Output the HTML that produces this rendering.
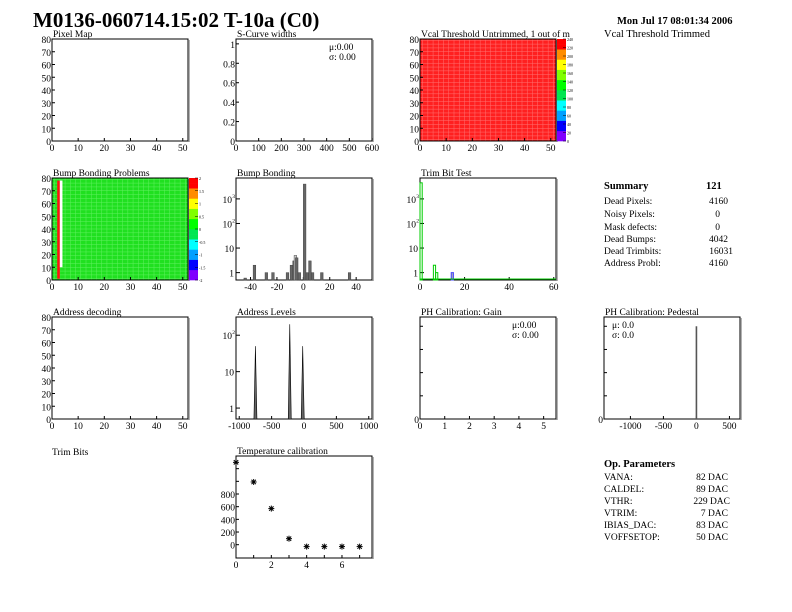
<!DOCTYPE html>
<html><head><meta charset="utf-8"><style>
body{margin:0;background:#fff}
svg{display:block;font-family:"Liberation Serif",serif}
</style></head><body>
<svg id="c" width="792" height="612" viewBox="0 0 792 612">
<text x="33" y="27" font-size="21" font-weight="bold">M0136-060714.15:02 T-10a (C0)</text>
<text x="617" y="24" font-size="10.5" font-weight="bold">Mon Jul 17 08:01:34 2006</text>
<text x="604" y="37" font-size="10.5">Vcal Threshold Trimmed</text>
<text x="52" y="455" font-size="9.5">Trim Bits</text>
<g id="summary" font-size="9.5">
<text x="604" y="189" font-weight="bold" font-size="10.5">Summary</text><text x="706" y="189" font-weight="bold" font-size="10.5">121</text>
<text x="604" y="204">Dead Pixels:</text><text x="728" y="204" text-anchor="end">4160</text>
<text x="604" y="217">Noisy Pixels:</text><text x="720" y="217" text-anchor="end">0</text>
<text x="604" y="230">Mask defects:</text><text x="720" y="230" text-anchor="end">0</text>
<text x="604" y="242">Dead Bumps:</text><text x="728" y="242" text-anchor="end">4042</text>
<text x="604" y="254">Dead Trimbits:</text><text x="733" y="254" text-anchor="end">16031</text>
<text x="604" y="266">Address Probl:</text><text x="728" y="266" text-anchor="end">4160</text>
</g>
<g id="opparams" font-size="9.5">
<text x="604" y="467" font-weight="bold" font-size="10.5">Op. Parameters</text>
<text x="604" y="480">VANA:</text><text x="728" y="480" text-anchor="end">82 DAC</text>
<text x="604" y="492">CALDEL:</text><text x="728" y="492" text-anchor="end">89 DAC</text>
<text x="604" y="504">VTHR:</text><text x="730" y="504" text-anchor="end">229 DAC</text>
<text x="604" y="516">VTRIM:</text><text x="728" y="516" text-anchor="end">7 DAC</text>
<text x="604" y="528">IBIAS_DAC:</text><text x="728" y="528" text-anchor="end">83 DAC</text>
<text x="604" y="540">VOFFSETOP:</text><text x="728" y="540" text-anchor="end">50 DAC</text>
</g>
</svg>
<script>
// Data
const bumpBins = [-45,-38,-29,-24,-13,-10,-8,-7,-6,-4,0,2,4,6,13,34];
const bumpCounts = [0.6,2,1,1,1,2,3,5,4,1,4000,1,3,1,1,1];
const trimBins = [0,6,7,14];
const trimCounts = [4500,2,1,1];
const addrBins = [-750,-220,-20];
const addrCounts = [50,200,50];
const tempX = [0,1,2,3,4,5,6,7];
const tempY = [1300,990,570,95,-30,-30,-30,-30];
const pedBins = [0];
const pedCounts = [1];

const svg=document.getElementById('c');const NS='http://www.w3.org/2000/svg';
function el(t,a,p){const e=document.createElementNS(NS,t);for(const k in a)e.setAttribute(k,a[k]);(p||svg).appendChild(e);return e;}
function txt(x,y,s,sz,anc,p){const e=el('text',{x:x,y:y,'font-size':sz||9.5,'text-anchor':anc||'middle'},p);e.textContent=s;return e;}
const W=136,H=102,FS=9.5;
function frame(x,y,title,name){
 const g=el('g',{});
 
 
 txt(x+1,y-2,title,FS,'start',g);
 el('rect',{x:x,y:y,width:W,height:H,fill:'none',stroke:'#000','stroke-width':1},g);
 el('line',{x1:x+W+1,y1:y+1,x2:x+W+1,y2:y+H+1,stroke:'#999','stroke-width':1.5},g);
 return g;
}
function linAxis(g,x,y,min,max,ticks,horiz,labels){
 const f=v=>horiz?x+(v-min)/(max-min)*W:y+H-(v-min)/(max-min)*H;
 ticks.forEach((v,i)=>{const p=f(v);
  if(horiz){el('line',{x1:p,y1:y+H,x2:p,y2:y+H-3,stroke:'#000'},g);if(labels[i]!=='')txt(p,y+H+10,labels[i],FS,'middle',g);}
  else{el('line',{x1:x,y1:p,x2:x+3,y2:p,stroke:'#000'},g);if(labels[i]!=='')txt(x-1,p+4,labels[i],FS,'end',g);}
 });return f;
}
function logAxis(g,x,y,lmin,lmax,decs){
 const f=v=>y+H-(Math.log10(v)-lmin)/(lmax-lmin)*H;
 decs.forEach(d=>{const p=f(Math.pow(10,d));el('line',{x1:x,y1:p,x2:x+4,y2:p,stroke:'#000'},g);
  const lab=d==0?'1':'10';const t=txt(x-2,p+4,lab,FS,'end',g);
  if(d>=2){t.setAttribute('x',x-4);txt(x-1,p-1,String(d),5.5,'end',g);}});
 return f;
}
function palette(t){const c=[[128,0,255],[0,0,255],[0,160,255],[0,255,255],[0,230,80],[0,255,0],[128,255,0],[255,255,0],[255,140,0],[255,0,0]];
 const i=Math.min(c.length-1,Math.floor(t*c.length));return 'rgb('+c[i].join(',')+')';}
function colorbar(g,x,y,labs){const n=20;for(let i=0;i<n;i++)el('rect',{x:x,y:y+H-(i+1)*H/n,width:9,height:H/n+0.3,fill:palette(i/n)},g);
 labs.forEach((l,i)=>{const p=y+H-i*H/(labs.length-1);el('line',{x1:x+6,y1:p,x2:x+9,y2:p,stroke:'#000','stroke-width':.5},g);txt(x+10,p+2,l,4,'start',g);});}
const yt=[0,10,20,30,40,50,60,70,80],ytl=yt.map(String),xt=[0,10,20,30,40,50],xtl=xt.map(String);
const C=[52,236,420,604],R=[39,178,317,456];
function grid(g,x,y,col){
 for(let i=1;i<52;i+=2)el('line',{x1:x+i*W/52,y1:y,x2:x+i*W/52,y2:y+H,stroke:col,'stroke-width':.5},g);
 for(let i=1;i<80;i+=3)el('line',{x1:x,y1:y+i*H/80,x2:x+W,y2:y+i*H/80,stroke:col,'stroke-width':.5},g);
}

let g=frame(C[0],R[0],'Pixel Map','pixel-map-panel');linAxis(g,C[0],R[0],0,52,xt,true,xtl);linAxis(g,C[0],R[0],0,80,yt,false,ytl);
g=frame(C[1],R[0],'S-Curve widths','s-curve-panel');
linAxis(g,C[1],R[0],0,600,[0,100,200,300,400,500,600],true,['0','100','200','300','400','500','600']);
linAxis(g,C[1],R[0],0,1.05,[0,0.2,0.4,0.6,0.8,1],false,['0','0.2','0.4','0.6','0.8','1']);
txt(C[1]+93,R[0]+11,'μ:0.00',FS,'start',g);txt(C[1]+93,R[0]+21,'σ: 0.00',FS,'start',g);
g=frame(C[2],R[0],'Vcal Threshold Untrimmed, 1 out of m','vcal-untrimmed-panel');
el('rect',{x:C[2],y:R[0],width:W,height:H,fill:'#ff2020'},g);
grid(g,C[2],R[0],'#ff7070');
el('rect',{x:C[2],y:R[0],width:W,height:H,fill:'none',stroke:'#000'},g);
colorbar(g,C[2]+W+1,R[0],['0','20','40','60','80','100','120','140','160','180','200','220','240']);
linAxis(g,C[2],R[0],0,52,xt,true,xtl);linAxis(g,C[2],R[0],0,80,yt,false,ytl);

g=frame(C[0],R[1],'Bump Bonding Problems','bump-problems-panel');
el('rect',{x:C[0],y:R[1],width:W,height:H,fill:'#20e020'},g);
grid(g,C[0],R[1],'#60f060');
el('rect',{x:C[0]+2*W/52,y:R[1]+H*2/80,width:W/52,height:H*77/80,fill:'#ff1010'},g);
el('rect',{x:C[0]+3*W/52,y:R[1]+H*2/80,width:W/52,height:H*68/80,fill:'#fff'},g);
el('rect',{x:C[0],y:R[1],width:W,height:H,fill:'none',stroke:'#000'},g);
colorbar(g,C[0]+W+1,R[1],['-2','-1.5','-1','-0.5','0','0.5','1','1.5','2']);
linAxis(g,C[0],R[1],0,52,xt,true,xtl);linAxis(g,C[0],R[1],0,80,yt,false,ytl);

g=frame(C[1],R[1],'Bump Bonding','bump-bonding-panel');
let fx=linAxis(g,C[1],R[1],-51,52,[-40,-20,0,20,40],true,['-40','-20','0','20','40']);
let fy=logAxis(g,C[1],R[1],-0.3,3.85,[0,1,2,3]);
bumpBins.forEach((b,i)=>{const v=bumpCounts[i];const r=el('rect',{x:fx(b),y:fy(v),width:2.6,height:R[1]+H-fy(v),fill:i==7?'#ccc':'#666',stroke:'#444','stroke-width':.5},g);
 });

g=frame(C[2],R[1],'Trim Bit Test','trim-bit-panel');
fx=linAxis(g,C[2],R[1],0,61,[0,20,40,60],true,['0','20','40','60']);
fy=logAxis(g,C[2],R[1],-0.3,3.85,[0,1,2,3]);
trimBins.forEach((b,i)=>{const v=trimCounts[i];const r=el('rect',{x:fx(b),y:fy(v),width:2.2,height:R[1]+H-fy(v),fill:i==3?'#aab':'none',stroke:i==3?'#44f':'#0c0','stroke-width':1},g);
 });
el('line',{x1:C[2],y1:R[1]+H-1,x2:C[2]+W,y2:R[1]+H-1,stroke:'#0c0'},g);

g=frame(C[0],R[2],'Address decoding','address-decoding-panel');linAxis(g,C[0],R[2],0,52,xt,true,xtl);linAxis(g,C[0],R[2],0,80,yt,false,ytl);
g=frame(C[1],R[2],'Address Levels','address-levels-panel');
fx=linAxis(g,C[1],R[2],-1050,1050,[-1000,-500,0,500,1000],true,['-1000','-500','0','500','1000']);
fy=logAxis(g,C[1],R[2],-0.3,2.5,[0,1,2]);
addrBins.forEach((b,i)=>{const v=addrCounts[i];const r=el('polygon',{points:(fx(b)-1.5)+','+(R[2]+H)+' '+fx(b)+','+fy(v)+' '+(fx(b)+1.5)+','+(R[2]+H),fill:'#666',stroke:'#000','stroke-width':.6},g);
 });
g=frame(C[2],R[2],'PH Calibration: Gain','ph-gain-panel');
linAxis(g,C[2],R[2],0,5.5,[0,1,2,3,4,5],true,['0','1','2','3','4','5']);
linAxis(g,C[2],R[2],0,1.1,[0,0.25,0.5,0.75,1],false,['0','','','','']);
txt(C[2]+92,R[2]+11,'μ:0.00',FS,'start',g);txt(C[2]+92,R[2]+21,'σ: 0.00',FS,'start',g);
g=frame(C[3],R[2],'PH Calibration: Pedestal','ph-pedestal-panel');
fx=linAxis(g,C[3],R[2],-1400,660,[-1000,-500,0,500],true,['-1000','-500','0','500']);
fy=linAxis(g,C[3],R[2],0,1.1,[0,0.25,0.5,0.75,1],false,['0','','','','']);
pedBins.forEach((b,i)=>{const r=el('rect',{x:fx(b)-0.8,y:fy(pedCounts[i]),width:1.6,height:R[2]+H-fy(pedCounts[i]),fill:'#555'},g);
 });
txt(C[3]+8,R[2]+11,'μ: 0.0',FS,'start',g);txt(C[3]+8,R[2]+21,'σ:  0.0',FS,'start',g);

g=frame(C[1],R[3],'Temperature calibration','temperature-panel');
fx=linAxis(g,C[1],R[3],0,7.7,[0,1,2,3,4,5,6,7],true,['0','','2','','4','','6','']);
fy=linAxis(g,C[1],R[3],-210,1400,[0,200,400,600,800,1000,1200],false,['0','200','400','600','800','','']);
tempX.forEach((xv,i)=>{const px=fx(xv),py=fy(tempY[i]);
 const s=el('g',{stroke:'#000','stroke-width':1},g);
 
 
 el('line',{x1:px-3,y1:py,x2:px+3,y2:py},s);el('line',{x1:px,y1:py-3,x2:px,y2:py+3},s);
 el('line',{x1:px-2.2,y1:py-2.2,x2:px+2.2,y2:py+2.2},s);el('line',{x1:px-2.2,y1:py+2.2,x2:px+2.2,y2:py-2.2},s);});
</script>
</body></html>
